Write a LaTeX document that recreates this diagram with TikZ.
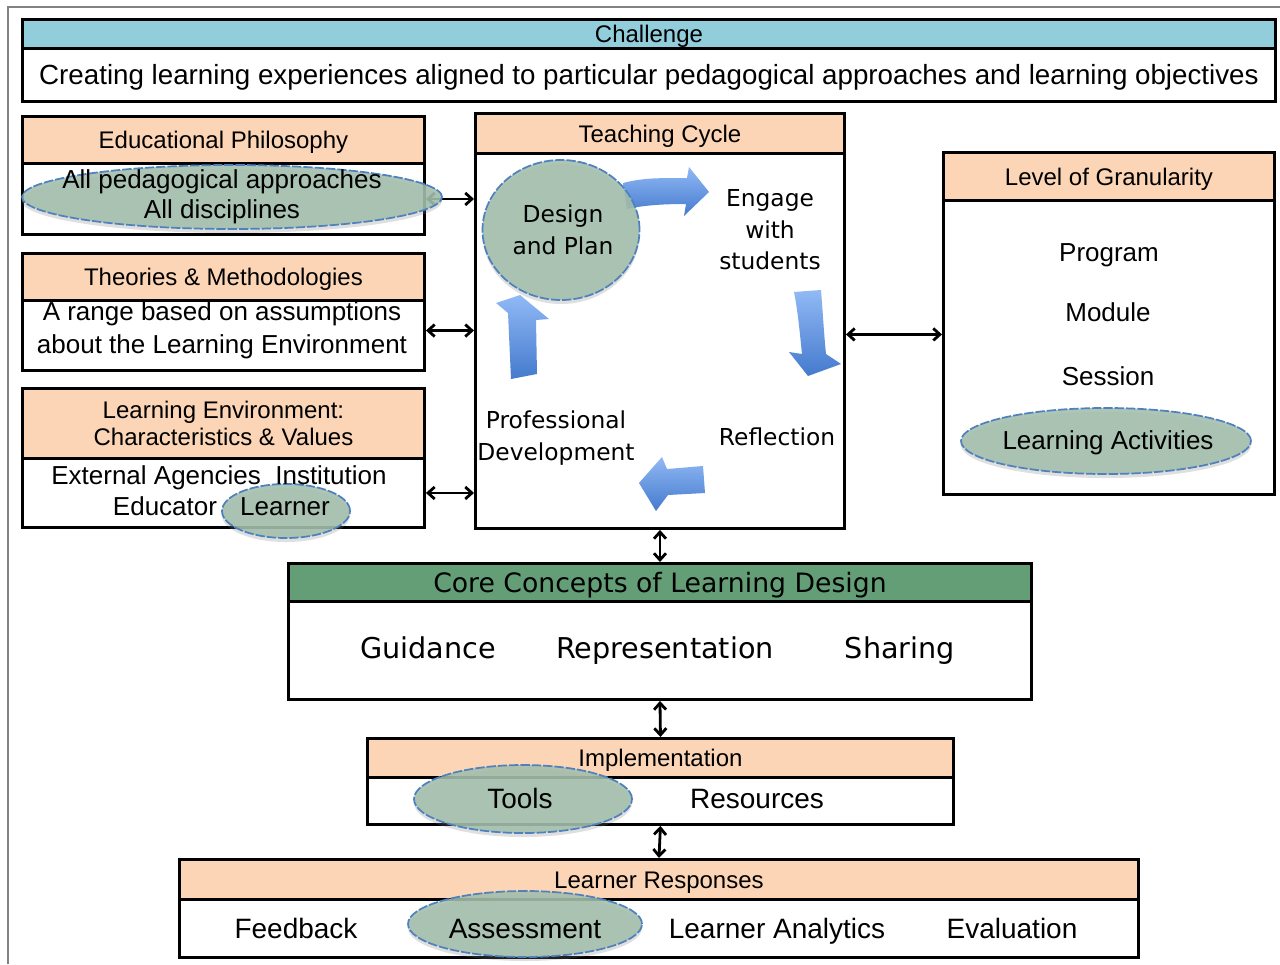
\documentclass[tikz,border=0pt]{standalone}
\usepackage{fontspec}
\setmainfont{Liberation Sans}
\newfontfamily\vfont{DejaVu Sans}
\usetikzlibrary{shapes.geometric,arrows.meta,shadows}
\definecolor{peach}{RGB}{251,213,181}
\definecolor{chblue}{RGB}{146,205,220}
\definecolor{coregreen}{RGB}{99,158,119}
\definecolor{ovalfill}{RGB}{162,190,172}
\definecolor{ovalline}{RGB}{79,129,189}
\definecolor{arrlight}{RGB}{145,185,245}
\definecolor{arrdark}{RGB}{68,122,205}
\definecolor{framegray}{RGB}{130,130,130}
\begin{document}
\begin{tikzpicture}[x=0.75pt,y=-0.75pt,
  sz/.style 2 args={minimum width={#1*0.75pt}, minimum height={#2*0.75pt}},
  one/.style={text height=#1, text depth=0pt},
  hdr/.style={draw, line width=2.2pt, fill=peach, inner sep=0pt, anchor=north west, align=center, font=\fontsize{18}{20.3}\selectfont},
  bdy/.style={draw, line width=2.2pt, fill=white, inner sep=0pt, anchor=north west, align=center, font=\fontsize{19.5}{24}\selectfont},
  oval/.style={ellipse, draw=ovalline, line width=1.3pt, dash pattern=on 7pt off 1.5pt, fill=ovalfill, fill opacity=0.88, inner sep=0pt,
     drop shadow={opacity=0.25, shadow xshift=0pt, shadow yshift=-3pt}},
  txt/.style={inner sep=0pt, align=center, font=\fontsize{19.5}{24}\selectfont},
  vtxt/.style={inner sep=0pt, align=center, font=\vfont\fontsize{17.5}{23.6}\selectfont},
  link/.style={{Straight Barb[length=5pt,width=9pt]}-{Straight Barb[length=5pt,width=9pt]}, line width=2.1pt},
  barrow/.style={top color=arrlight, bottom color=arrdark, draw=none}
]
\useasboundingbox (0,0) rectangle (1280,964);
\fill[white] (0,0) rectangle (1280,964);
% outer frame
\draw[framegray, line width=1.5pt] (8,964) -- (8,7) -- (1280,7);

% Challenge
\node[hdr, one=12.9pt, fill=chblue, sz={1253}{29}] (chH) at (21,18) {Challenge};
\node[bdy, one=14.9pt, sz={1253}{53}, font=\fontsize{20.8}{24}\selectfont] (chB) at (21,47) {Creating learning experiences aligned to particular pedagogical approaches and learning objectives};

% Left column
\node[hdr, one=12.9pt, sz={402}{47}] (epH) at (21,115) {Educational Philosophy};
\node[bdy, sz={402}{71}] (epB) at (21,162) {};
\node[hdr, one=12.9pt, sz={402}{47}] (thH) at (21,252) {Theories \& Methodologies};
\node[bdy, sz={402}{70}] (thB) at (21,299) {};
\node[hdr, sz={402}{70}] (leH) at (21,387) {Learning Environment:\\Characteristics \& Values};
\node[bdy, sz={402}{69}] (leB) at (21,457) {};

% Teaching cycle
\node[hdr, one=12.9pt, sz={369}{40}] (tcH) at (474,112) {Teaching Cycle};
\node[bdy, sz={369}{375}] (tcB) at (474,152) {};

% Granularity
\node[hdr, one=12.9pt, sz={331}{48}] (grH) at (942,151) {Level of Granularity};
\node[bdy, sz={331}{294}] (grB) at (942,199) {};

% Core concepts
\node[hdr, one=14.6pt, fill=coregreen, sz={743}{38}, font=\vfont\fontsize{20}{24}\selectfont] (coreH) at (287,562) {Core Concepts of Learning Design};
\node[bdy, sz={743}{98}] (coreB) at (287,600) {};

% Implementation
\node[hdr, one=12.9pt, sz={586}{39}] (imH) at (366,737) {Implementation};
\node[bdy, sz={586}{47}] (imB) at (366,776) {};

% Learner responses
\node[hdr, one=12.9pt, sz={959}{40}] (lrH) at (178,858) {Learner Responses};
\node[bdy, sz={959}{58}] (lrB) at (178,898) {};

% connectors
\draw[link] (epB.east) -- (epB.east -| tcB.west);
\coordinate (t1) at ([yshift=3.7pt]thB.east);
\draw[link] (t1) -- (t1 -| tcB.west);
\draw[link] (leB.east) -- (leB.east -| tcB.west);
\coordinate (g1) at ([yshift=4.9pt]tcB.east);
\draw[link] (g1) -- (g1 -| grB.west);
\draw[link] (tcB.south) -- (coreH.north);
\draw[link] (coreB.south) -- (imH.north);
\draw[link] (imB.south) -- (lrH.north);

% cycle arrows
\shade[barrow] (623,183) .. controls (650,176) and (670,179) .. (687,178) -- (689,167) -- (709,192) -- (684,216) -- (686,204) .. controls (665,204) and (645,205) .. (627,209) -- cycle;
\shade[barrow] (794,292) -- (821,290) .. controls (823,315) and (824,335) .. (826,354) -- (841,364) -- (808,376) -- (789,352) -- (802,354) .. controls (800,335) and (798,312) .. (794,292) -- cycle;
\shade[barrow] (703,466) -- (705,493) -- (668,495) -- (656,511) -- (639,483) -- (662,457) -- (667,469) -- cycle;
\shade[barrow] (511,379) -- (537,374) -- (536,320) -- (549,319) -- (520,295) -- (496,303) -- (508,313) -- cycle;

% ovals
\node[oval, sz={420}{64}] (epOval) at (232,197) {};
\node[oval, sz={128}{54}] (lrnOval) at (286,511) {};
\node[oval, sz={157}{140}] (dpOval) at (561,230) {};
\node[oval, sz={290}{66}] (laOval) at (1106,441) {};
\node[oval, sz={218}{68}] (toolsOval) at (523,799) {};
\node[oval, sz={234}{66}] (asOval) at (525,924) {};

% texts
\node[txt, font=\fontsize{19.5}{22.5}\selectfont] (epT) at (222,197) {All pedagogical approaches\\All disciplines};
\node[txt, font=\fontsize{19.5}{24.75}\selectfont] (thT) at (222,330) {A range based on assumptions\\about the Learning Environment};
\node[txt, one=14pt] (leT1) at (219,475) {External Agencies \ Institution};
\node[txt, one=14pt] (leT2) at (165,506) {Educator};
\node[txt, one=14pt] (leT3) at (285,506) {Learner};

\node[vtxt, font=\vfont\fontsize{17.5}{24}\selectfont] (dpT) at (563,230) {Design\\and Plan};
\node[vtxt] (engT) at (770,230) {Engage\\with\\students};
\node[vtxt] (pdT) at (556,438) {Professional\\Development};
\node[vtxt, one=12.8pt] (rfT) at (777,437) {Reflection};

\node[txt, one=14pt] (pgT) at (1109,252) {Program};
\node[txt, one=14pt] (mdT) at (1108,312) {Module};
\node[txt, one=14pt] (ssT) at (1108,376) {Session};
\node[txt, one=14pt] (laT) at (1108,440) {Learning Activities};

\node[txt, one=15.7pt, font=\vfont\fontsize{21.5}{24}\selectfont] (gdT) at (428,648) {Guidance};
\node[txt, one=15.7pt, font=\vfont\fontsize{21.5}{24}\selectfont] (rpT) at (665,648) {Representation};
\node[txt, one=15.7pt, font=\vfont\fontsize{21.5}{24}\selectfont] (shT) at (900,648) {Sharing};

\node[txt, one=15pt, font=\fontsize{21}{24}\selectfont] (toT) at (520,798) {Tools};
\node[txt, one=15pt, font=\fontsize{21}{24}\selectfont] (reT) at (757,798) {Resources};

\node[txt, one=15pt, font=\fontsize{21}{24}\selectfont] (fbT) at (296,928) {Feedback};
\node[txt, one=15pt, font=\fontsize{21}{24}\selectfont] (asT) at (525,928) {Assessment};
\node[txt, one=15pt, font=\fontsize{21}{24}\selectfont] (anT) at (777,928) {Learner Analytics};
\node[txt, one=15pt, font=\fontsize{21}{24}\selectfont] (evT) at (1012,928) {Evaluation};
\end{tikzpicture}
\end{document}
